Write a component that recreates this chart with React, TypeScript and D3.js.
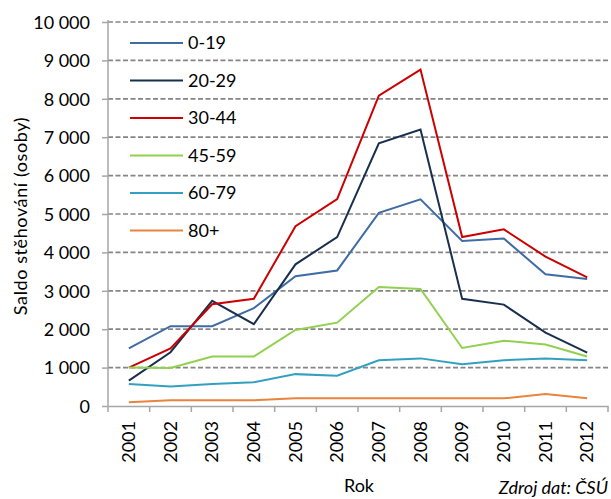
import * as d3 from 'd3';
import { useEffect, useRef } from 'react';

const years = ['2001', '2002', '2003', '2004', '2005', '2006', '2007', '2008', '2009', '2010', '2011', '2012'];
const ageGroups = ['0-19', '20-29', '30-44', '45-59', '60-79', '80+'];
const lineColors = ['#3E6CA3', '#182F4D', '#CC0000', '#92D050', '#34A0BF', '#E8843E'];

const age0to19 = [1500, 2080, 2080, 2550, 3380, 3530, 5030, 5380, 4300, 4360, 3430, 3310];
const age20to29 = [660, 1400, 2740, 2130, 3690, 4400, 6840, 7200, 2790, 2640, 1910, 1390];
const age30to44 = [1000, 1500, 2650, 2790, 4680, 5390, 8080, 8760, 4400, 4600, 3890, 3350];
const age45to59 = [1000, 990, 1290, 1290, 1980, 2170, 3100, 3050, 1510, 1700, 1600, 1290];
const age60to79 = [570, 510, 570, 620, 830, 790, 1190, 1240, 1090, 1190, 1240, 1190];
const age80plus = [100, 150, 150, 150, 200, 200, 200, 200, 200, 200, 310, 200];

const series = [age0to19, age20to29, age30to44, age45to59, age60to79, age80plus];
const yTicks = [0, 1000, 2000, 3000, 4000, 5000, 6000, 7000, 8000, 9000, 10000];

const FONT = 'Lato, Carlito, sans-serif';
const FS = 18;

const App = () => {
  const svgRef = useRef(null);

  useEffect(() => {
    const width = 611;
    const height = 499;
    const left = 108;
    const right = 608;
    const top = 22;
    const bottom = 406;

    const svg = d3.select(svgRef.current);
    svg.selectAll('*').remove();
    svg.attr('width', width).attr('height', height).attr('viewBox', [0, 0, width, height]);
    svg.append('rect').attr('width', width).attr('height', height).attr('fill', '#fff');

    const x = d3.scaleBand().domain(years).range([left, right]);
    const y = d3.scaleLinear().domain([0, 10000]).range([bottom, top]);

    // grid lines
    svg.append('g')
      .selectAll('line')
      .data(yTicks.filter((d) => d > 0))
      .join('line')
      .attr('x1', left)
      .attr('x2', right)
      .attr('y1', (d) => y(d))
      .attr('y2', (d) => y(d))
      .attr('stroke', '#858585')
      .attr('stroke-width', 1.7)
      .attr('stroke-dasharray', '5,2.5');

    // y axis
    const yAxis = d3.axisLeft(y)
      .tickValues(yTicks)
      .tickSize(6)
      .tickSizeOuter(0);
    svg.append('g')
      .attr('transform', `translate(${left},0)`)
      .call(yAxis)
      .call((g) => g.select('.domain').attr('d', `M0,${top - 2}V${bottom}`))
      .call((g) => g.selectAll('.domain, .tick line').attr('stroke', '#A6A6A6').attr('stroke-width', 1.5))
      .call((g) => g.selectAll('.tick text')
        .attr('font-size', FS)
        .attr('font-family', FONT)
        .attr('fill', '#000')
        .attr('x', -18)
        .attr('dy', '0.35em')
        .text((d) => (d >= 1000 ? `${Math.floor(d / 1000)} 000` : `${d}`)));

    // x axis
    const xAxis = d3.axisBottom(x).tickSize(0).tickSizeOuter(0);
    svg.append('g')
      .attr('transform', `translate(0,${bottom})`)
      .call(xAxis)
      .call((g) => g.select('.domain').attr('stroke', '#A6A6A6').attr('stroke-width', 1.5))
      .call((g) => g.selectAll('.tick text')
        .attr('font-size', FS)
        .attr('font-family', FONT)
        .attr('fill', '#000')
        .attr('transform', 'rotate(-90)')
        .attr('text-anchor', 'end')
        .attr('x', -15)
        .attr('y', 0)
        .attr('dy', '0.35em'));

    // x tick marks at band boundaries
    svg.append('g')
      .selectAll('line')
      .data([...years.map((d) => x(d)), right])
      .join('line')
      .attr('x1', (d) => d)
      .attr('x2', (d) => d)
      .attr('y1', bottom)
      .attr('y2', bottom + 6)
      .attr('stroke', '#A6A6A6')
      .attr('stroke-width', 1.5);

    // lines
    const line = d3.line()
      .x((_, i) => x(years[i]) + x.bandwidth() / 2)
      .y((d) => y(d));

    svg.append('g')
      .selectAll('path')
      .data(series)
      .join('path')
      .attr('fill', 'none')
      .attr('stroke', (_, i) => lineColors[i])
      .attr('stroke-width', 2)
      .attr('stroke-linejoin', 'miter')
      .attr('d', (d) => line(d));

    // legend
    const legend = svg.append('g');
    ageGroups.forEach((name, i) => {
      const ly = 43 + i * 37.5;
      legend.append('line')
        .attr('x1', 130)
        .attr('x2', 183)
        .attr('y1', ly)
        .attr('y2', ly)
        .attr('stroke', lineColors[i])
        .attr('stroke-width', 2);
      legend.append('text')
        .attr('x', 188)
        .attr('y', ly)
        .attr('dy', '0.35em')
        .attr('font-size', FS)
        .attr('font-family', FONT)
        .text(name);
    });

    // axis titles
    svg.append('text')
      .attr('transform', `translate(27,216) rotate(-90)`)
      .attr('text-anchor', 'middle')
      .attr('font-size', FS)
      .attr('letter-spacing', 0.6)
      .attr('font-family', FONT)
      .text('Saldo stěhování (osoby)');

    svg.append('text')
      .attr('x', 359)
      .attr('y', 492)
      .attr('text-anchor', 'middle')
      .attr('font-size', FS)
      .attr('font-family', FONT)
      .text('Rok');

    svg.append('text')
      .attr('x', 608)
      .attr('y', 494)
      .attr('text-anchor', 'end')
      .attr('font-size', FS)
      .attr('font-style', 'italic')
      .attr('font-family', FONT)
      .text('Zdroj dat: ČSÚ');
  }, []);

  return <svg ref={svgRef} style={{ position: 'absolute', left: 0, top: 0 }} />;
};

export default App;
